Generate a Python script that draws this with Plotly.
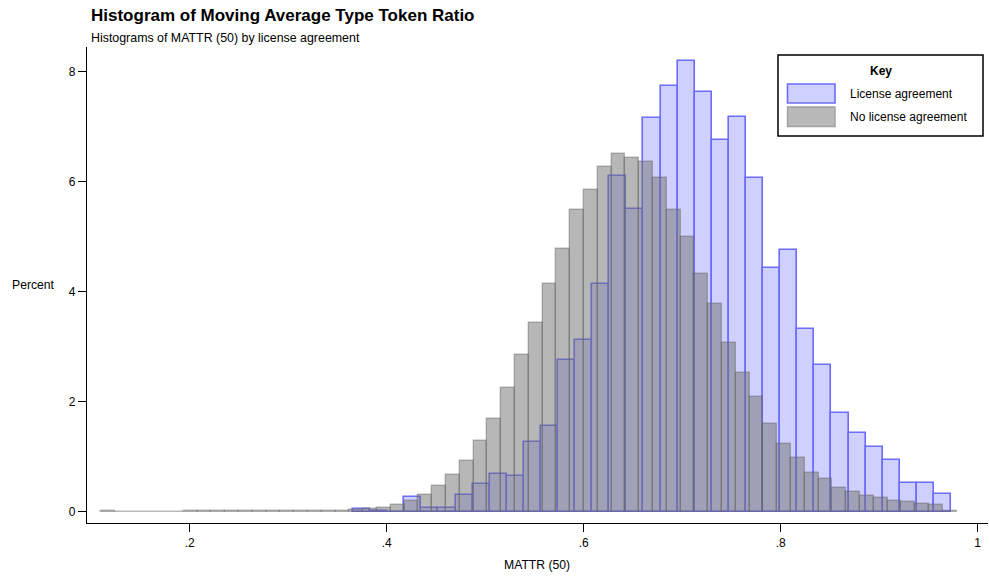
import plotly.graph_objects as go

# ---------------- data ----------------
blue_label = "License agreement"
gray_label = "No license agreement"

# License agreement: 35 bins
blue_bin_start = 0.3658
blue_bin_width = 0.01735
blue_percent = [0.05, 0.02, 0.0, 0.26, 0.07, 0.07, 0.30, 0.50, 0.68, 0.65,
                1.26, 1.56, 2.75, 3.12, 4.14, 6.11, 5.50, 7.16, 7.74, 8.19,
                7.63, 6.76, 7.18, 6.06, 4.43, 4.75, 3.33, 2.66, 1.79, 1.44,
                1.18, 0.94, 0.53, 0.53, 0.33]

# No license agreement: 62 bins
gray_bin_start = 0.1100
gray_bin_width = 0.01401
gray_percent = [0.01, 0.0, 0.0, 0.0, 0.0, 0.0, 0.01, 0.01, 0.01, 0.01,
                0.01, 0.01, 0.01, 0.01, 0.01, 0.01, 0.01, 0.02, 0.03, 0.05,
                0.07, 0.12, 0.20, 0.31, 0.46, 0.67, 0.93, 1.29, 1.69, 2.25,
                2.85, 3.43, 4.14, 4.77, 5.49, 5.85, 6.27, 6.50, 6.44, 6.36,
                6.06, 5.48, 4.99, 4.33, 3.77, 3.06, 2.52, 2.09, 1.59, 1.24,
                0.97, 0.71, 0.59, 0.44, 0.35, 0.29, 0.25, 0.20, 0.17, 0.14,
                0.13, 0.01]

x_tick_vals = [0.2, 0.4, 0.6, 0.8, 1.0]
x_tick_text = [".2", ".4", ".6", ".8", "1"]
y_tick_vals = [0, 2, 4, 6, 8]
y_tick_text = ["0", "2", "4", "6", "8"]

title_text = "Histogram of Moving Average Type Token Ratio"
subtitle_text = "Histograms of MATTR (50) by license agreement"
x_title = "MATTR (50)"
y_title = "Percent"
legend_title = "Key"

# ---------------- styling ----------------
FONT = "Liberation Sans, Arial, Helvetica, sans-serif"
W, H = 989, 577
L, R, T, B = 87, 1, 47, 54
PW, PH = W - L - R, H - T - B

BLUE_FILL = "rgb(208,208,255)"
BLUE_LINE = "rgb(108,108,255)"
GRAY_FILL = "rgba(112,112,112,0.5)"
GRAY_LINE = "rgba(100,100,100,0.45)"


def px_x(px):
    return (px - L) / PW


def px_y(py):
    return (H - B - py) / PH


blue_centers = [blue_bin_start + blue_bin_width * (i + 0.5) for i in range(len(blue_percent))]
gray_centers = [gray_bin_start + gray_bin_width * (i + 0.5) for i in range(len(gray_percent))]

fig = go.Figure()
fig.add_trace(go.Bar(
    x=blue_centers, y=blue_percent, width=blue_bin_width, name=blue_label,
    marker=dict(color=BLUE_FILL, line=dict(color=BLUE_LINE, width=1.6)),
    showlegend=False,
))
fig.add_trace(go.Bar(
    x=gray_centers, y=gray_percent, width=gray_bin_width, name=gray_label,
    marker=dict(color=GRAY_FILL, line=dict(color=GRAY_LINE, width=1.4)),
    showlegend=False,
))

shapes = []
annotations = []

# titles
annotations.append(dict(text="<b>" + title_text + "</b>", xref="paper", yref="paper",
                        x=px_x(89), y=px_y(15), xanchor="left", yanchor="middle",
                        showarrow=False, font=dict(family=FONT, size=17, color="black")))
annotations.append(dict(text=subtitle_text, xref="paper", yref="paper",
                        x=px_x(89), y=px_y(37.5), xanchor="left", yanchor="middle",
                        showarrow=False, font=dict(family=FONT, size=12.4, color="black")))
annotations.append(dict(text=y_title, xref="paper", yref="paper",
                        x=px_x(10), y=px_y(285), xanchor="left", yanchor="middle",
                        showarrow=False, font=dict(family=FONT, size=12.2, color="black")))
annotations.append(dict(text=x_title, xref="paper", yref="paper",
                        x=px_x(537), y=px_y(565), xanchor="center", yanchor="middle",
                        showarrow=False, font=dict(family=FONT, size=12.2, color="black")))

# custom legend ("Key")
shapes.append(dict(type="rect", xref="paper", yref="paper",
                   x0=px_x(778), x1=px_x(983), y0=px_y(136), y1=px_y(55),
                   line=dict(color="black", width=1.5), fillcolor="white", layer="above"))
annotations.append(dict(text="<b>" + legend_title + "</b>", xref="paper", yref="paper",
                        x=px_x(880.5), y=px_y(71), xanchor="center", yanchor="middle",
                        showarrow=False, font=dict(family=FONT, size=12, color="black")))
shapes.append(dict(type="rect", xref="paper", yref="paper",
                   x0=px_x(787.5), x1=px_x(835), y0=px_y(103), y1=px_y(84),
                   line=dict(color=BLUE_LINE, width=1.6), fillcolor=BLUE_FILL, layer="above"))
shapes.append(dict(type="rect", xref="paper", yref="paper",
                   x0=px_x(787.5), x1=px_x(835), y0=px_y(126.5), y1=px_y(107),
                   line=dict(color="rgb(160,160,160)", width=1.4), fillcolor="rgb(185,185,185)",
                   layer="above"))
annotations.append(dict(text=blue_label, xref="paper", yref="paper",
                        x=px_x(847.5), y=px_y(94), xanchor="left", yanchor="middle",
                        showarrow=False, font=dict(family=FONT, size=12, color="black")))
annotations.append(dict(text=gray_label, xref="paper", yref="paper",
                        x=px_x(847.5), y=px_y(117), xanchor="left", yanchor="middle",
                        showarrow=False, font=dict(family=FONT, size=12, color="black")))

fig.update_layout(
    width=W, height=H, autosize=False,
    margin=dict(l=L, r=R, t=T, b=B, pad=0),
    paper_bgcolor="white", plot_bgcolor="white",
    barmode="overlay", bargap=0,
    showlegend=False,
    font=dict(family=FONT, size=12, color="black"),
    shapes=shapes, annotations=annotations,
    xaxis=dict(range=[0.0958, 1.0105], tickvals=x_tick_vals, ticktext=x_tick_text,
               showgrid=False, zeroline=False, showline=True, linecolor="black", linewidth=1.3,
               ticks="outside", ticklen=8, tickwidth=1.2, tickcolor="black",
               tickfont=dict(family=FONT, size=12, color="black")),
    yaxis=dict(range=[-0.205, 8.449], tickvals=y_tick_vals, ticktext=y_tick_text,
               showgrid=False, zeroline=False, showline=True, linecolor="black", linewidth=1.3,
               ticks="outside", ticklen=8, tickwidth=1.2, tickcolor="black",
               tickfont=dict(family=FONT, size=12, color="black")),
)

fig.write_html("out.html")
